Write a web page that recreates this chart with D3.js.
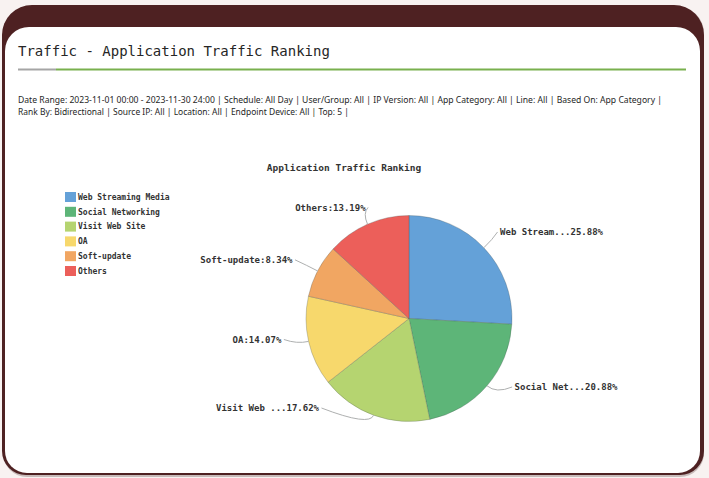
<!DOCTYPE html>
<html>
<head>
<meta charset="utf-8">
<script src="https://cdn.jsdelivr.net/npm/d3@7"></script>
<style>
  html, body { margin: 0; padding: 0; background: #f8f2f1; }
  svg { display: block; }
</style>
</head>
<body>
<svg id="chart" width="709" height="478"></svg>
<script>
// ---- data ----
const categories = ["Web Streaming Media", "Social Networking", "Visit Web Site", "OA", "Soft-update", "Others"];
const shares = [25.88, 20.88, 17.62, 14.07, 8.34, 13.19];
const sliceNames = ["Web Stream...", "Social Net...", "Visit Web ...", "OA:", "Soft-update:", "Others:"];
const pageTitle = "Traffic - Application Traffic Ranking";
const filterLines = [
  "Date Range: 2023-11-01 00:00 - 2023-11-30 24:00 | Schedule: All Day | User/Group: All | IP Version: All | App Category: All | Line: All | Based On: App Category |",
  "Rank By: Bidirectional | Source IP: All | Location: All | Endpoint Device: All | Top: 5 |"
];
const chartTitle = "Application Traffic Ranking";

// ---- styling / layout ----
const palette = ["#64a1d8", "#5db578", "#b5d470", "#f7d86c", "#f1a662", "#ec5f5a"];
const mono = "'DejaVu Sans Mono', 'Liberation Mono', monospace";
// label anchor adjustments, applied after the radial leader segment
const labelNudge = [[-3, -7.5], [8, -6.6], [-40, -18.5], [-5, -4.6], [-4, -5.6], [13.4, -5.8]];

const svg = d3.select("#chart");

// rounded rectangle with separate top / bottom corner radii
function roundRect(x, y, w, h, rt, rb) {
  return `M${x + rt},${y} H${x + w - rt} A${rt},${rt} 0 0 1 ${x + w},${y + rt}` +
         ` V${y + h - rb} A${rb},${rb} 0 0 1 ${x + w - rb},${y + h}` +
         ` H${x + rb} A${rb},${rb} 0 0 1 ${x},${y + h - rb}` +
         ` V${y + rt} A${rt},${rt} 0 0 1 ${x + rt},${y} Z`;
}

// ---- card frame ----
svg.append("rect").attr("width", 709).attr("height", 478).attr("fill", "#f8f2f1");
svg.append("path").attr("d", roundRect(3, 7, 701, 470, 26, 24)).attr("fill", "#b3a4a2").attr("opacity", 0.7);
svg.append("path").attr("d", roundRect(2, 5, 702, 470, 30, 24)).attr("fill", "#4e2122");
svg.append("path").attr("d", roundRect(5, 27, 695, 446, 24, 22)).attr("fill", "#ffffff");

// ---- header ----
svg.append("text")
  .attr("x", 18).attr("y", 56)
  .attr("font-family", mono).attr("font-size", 14)
  .attr("fill", "#262626")
  .text(pageTitle);

svg.append("line").attr("x1", 18).attr("x2", 56).attr("y1", 69.5).attr("y2", 69.5)
  .attr("stroke", "#a5a5a5").attr("stroke-width", 2);
svg.append("line").attr("x1", 56).attr("x2", 686).attr("y1", 69.5).attr("y2", 69.5)
  .attr("stroke", "#79b04e").attr("stroke-width", 2);

const filterWidths = [644, 331];
svg.selectAll("text.filter").data(filterLines).join("text")
  .attr("class", "filter")
  .attr("x", 18).attr("y", (d, i) => 102.5 + i * 12.5)
  .attr("font-family", "'Noto Sans', 'DejaVu Sans', sans-serif")
  .attr("font-size", 8.5)
  .attr("fill", "#262626")
  .attr("textLength", (d, i) => filterWidths[i])
  .attr("lengthAdjust", "spacingAndGlyphs")
  .text(d => d);

// ---- pie ----
const cx = 409, cy = 318.5, r = 103;
const color = d3.scaleOrdinal().domain(categories).range(palette);

svg.append("text")
  .attr("x", 344).attr("y", 171)
  .attr("text-anchor", "middle")
  .attr("font-family", mono).attr("font-size", 9.5).attr("font-weight", "bold")
  .attr("fill", "#333")
  .text(chartTitle);

const arcs = d3.pie().sort(null).value(d => d)(shares);
const arcGen = d3.arc().innerRadius(0).outerRadius(r);

const g = svg.append("g").attr("transform", `translate(${cx},${cy})`);
g.selectAll("path.slice").data(arcs).join("path")
  .attr("class", "slice")
  .attr("d", arcGen)
  .attr("fill", (d, i) => color(categories[i]))
  .attr("stroke", "rgba(70,80,80,0.35)")
  .attr("stroke-width", 0.8);

// leader lines and labels
const L1 = 12, L2 = 8;
const polar = (rad, ang) => [cx + rad * Math.sin(ang), cy - rad * Math.cos(ang)];

arcs.forEach((a, i) => {
  const mid = (a.startAngle + a.endAngle) / 2;
  const side = Math.sin(mid) >= 0 ? 1 : -1;
  const p1 = polar(r, mid);
  const p2 = polar(r + L1, mid);
  const p3 = [p2[0] + side * L2 + labelNudge[i][0], p2[1] + labelNudge[i][1]];

  svg.append("path")
    .attr("d", `M${p1[0]},${p1[1]} Q${p2[0]},${p2[1]} ${p3[0]},${p3[1]}`)
    .attr("fill", "none")
    .attr("stroke", "#aeb0b0")
    .attr("stroke-width", 1);

  svg.append("text")
    .attr("x", p3[0] + side * 2.5)
    .attr("y", p3[1])
    .attr("dy", "0.35em")
    .attr("text-anchor", side > 0 ? "start" : "end")
    .attr("font-family", mono).attr("font-size", 9).attr("font-weight", "bold")
    .attr("fill", "#333")
    .text(sliceNames[i] + d3.format(".2f")(a.data) + "%");
});

// ---- legend ----
const legend = svg.append("g").attr("transform", "translate(65,192)");
const rows = legend.selectAll("g").data(categories).join("g")
  .attr("transform", (d, i) => `translate(0,${i * 14.8})`);
rows.append("rect").attr("width", 11).attr("height", 10)
  .attr("fill", d => color(d));
rows.append("text")
  .attr("x", 13).attr("y", 5).attr("dy", "0.35em")
  .attr("font-family", mono).attr("font-size", 8).attr("font-weight", "bold")
  .attr("fill", "#333")
  .text(d => d);
</script>
</body>
</html>
